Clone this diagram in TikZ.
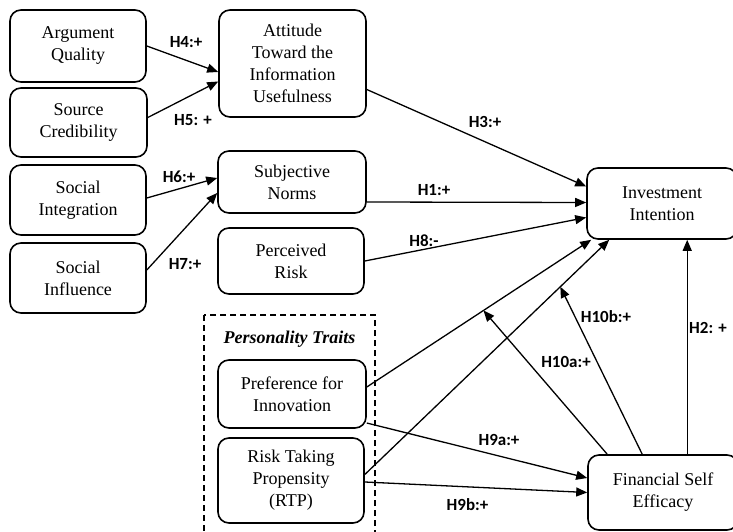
\documentclass[tikz,border=0pt]{standalone}
\usepackage{fontspec}
\setmainfont{Liberation Serif}
\newfontfamily\constructfont{Liberation Serif}
\newfontfamily\hypfont{Carlito}
\usetikzlibrary{arrows.meta,calc,positioning}
\tikzset{
    construct/.style = {
        draw,
        rounded corners=11pt,
        line width=1.6pt,
        align=center,
        inner sep=2pt,
        font=\constructfont\fontsize{18}{22}\selectfont,
        },
    hyp/.style = {
        inner sep=0pt,
        font=\hypfont\bfseries\fontsize{17}{20}\selectfont,
        },
    path edge/.style = {
        line width=1.3pt,
        -{Triangle[length=11pt,width=9pt]},
        },
    trait group/.style = {
        draw,
        dash pattern=on 6pt off 4pt,
        line width=1.3pt,
        },
}

\begin{document}
\begin{tikzpicture}[x=1pt,y=-1pt]
            \useasboundingbox (0,0) rectangle (733,532);

            % constructs
            \node[construct, minimum width=136pt, minimum height=72pt] (aq) at (78,46) {Argument\\Quality};
            \node[construct, minimum width=137pt, minimum height=69pt] (sc) at (78.5,122.5) {Source\\Credibility};
            \node[construct, minimum width=147pt, minimum height=107pt] (att) at (292.5,63.5) {Attitude\\Toward the\\Information\\Usefulness};
            \node[construct, minimum width=136pt, minimum height=70pt] (si) at (78,200) {Social\\Integration};
            \node[construct, minimum width=136pt, minimum height=70pt] (sinf) at (78,278) {Social\\Influence};
            \node[construct, minimum width=148pt, minimum height=62pt] (sn) at (292,182) {Subjective\\Norms};
            \node[construct, minimum width=146pt, minimum height=66pt] (pr) at (291,261) {Perceived\\Risk};
            \node[construct, minimum width=150pt, minimum height=71pt] (ii) at (662,203.5) {Investment\\Intention};
            \node[construct, minimum width=150pt, minimum height=75pt] (fse) at (663,492.5) {Financial Self\\Efficacy};

            % personality traits
            \draw[trait group] (204,315) rectangle (375,545);
            \node[font=\constructfont\fontsize{18}{22}\selectfont\bfseries\itshape] (pt) at (289.5,339) {Personality Traits};
            \node[construct, minimum width=148pt, minimum height=68pt] (pfi) at (292,394) {Preference for\\Innovation};
            \node[construct, minimum width=146pt, minimum height=85pt] (rtp) at (291,480.5) {Risk Taking\\Propensity\\(RTP)};

            % paths
            \draw[path edge] (aq.east) -- ($(att.west)+(0,8.5)$);
            \draw[path edge] ($(sc.east)+(0,-5)$) -- ($(att.west)+(0,18)$);
            \draw[path edge] ($(si.east)+(0,-2)$) -- ($(sn.west)+(0,-4)$);
            \draw[path edge] ($(sinf.east)+(0,-8)$) -- ($(sn.west)+(0,11)$);
            \draw[path edge] ($(att.east)+(0,26)$) -- ($(ii.west)+(0,-17)$);
            \draw[path edge] ($(sn.east)+(0,20)$) -- ($(ii.west)+(0,-1)$);
            \draw[path edge] (pr.east) -- ($(ii.west)+(0,14)$);
            \draw[path edge] ($(pfi.east)+(0,-7)$) -- ($(ii.south west)+(5,0)$) coordinate[pos=0.52] (m10a);
            \draw[path edge] ($(rtp.east)+(0,-6)$) -- ($(ii.south west)+(23,0)$) coordinate[pos=0.8] (m10b);
            \draw[path edge] ($(fse.north west)+(20,0)$) -- (m10a);
            \draw[path edge] ($(fse.north west)+(55,0)$) -- (m10b);
            \draw[path edge] ($(fse.north west)+(100,0)$) -- ($(ii.south west)+(101,0)$);
            \draw[path edge] ($(pfi.east)+(0,29)$) -- ($(fse.west)+(0,-14.5)$);
            \draw[path edge] ($(rtp.east)+(0,1.5)$) -- (fse.west);

            % hypotheses
            \node[hyp] (h4) at (186,42) {H4:+};
            \node[hyp] (h5) at (193,120) {H5: +};
            \node[hyp] (h6) at (179,177) {H6:+};
            \node[hyp] (h7) at (185,264) {H7:+};
            \node[hyp] (h3) at (485,122) {H3:+};
            \node[hyp] (h1) at (434,190) {H1:+};
            \node[hyp] (h8) at (424,241) {H8:-};
            \node[hyp] (h10b) at (606,317) {H10b:+};
            \node[hyp] (h10a) at (566,362) {H10a:+};
            \node[hyp] (h9a) at (499,440) {H9a:+};
            \node[hyp] (h9b) at (467.5,505) {H9b:+};
            \node[hyp] (h2) at (708,328) {H2: +};
        \end{tikzpicture}
\end{document}
